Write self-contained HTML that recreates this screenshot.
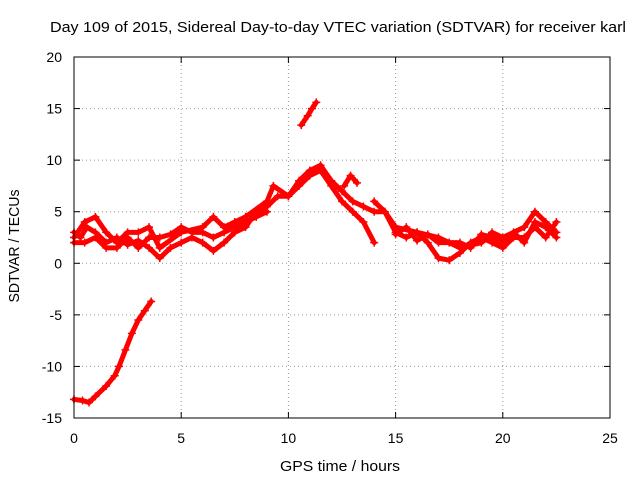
<!DOCTYPE html>
<html><head><meta charset="utf-8"><style>
body{margin:0;background:#fff}
svg{display:block;font-family:"Liberation Sans",sans-serif}
</style></head><body>
<svg id="chart" width="640" height="480">
<text x="338" y="32" font-size="15" text-anchor="middle" textLength="576" lengthAdjust="spacingAndGlyphs">Day 109 of 2015, Sidereal Day-to-day VTEC variation (SDTVAR) for receiver karl</text>
<text x="340" y="471" font-size="15" text-anchor="middle" textLength="120" lengthAdjust="spacingAndGlyphs">GPS time / hours</text>
<text transform="translate(19,246) rotate(-90)" font-size="15" text-anchor="middle" textLength="113" lengthAdjust="spacingAndGlyphs">SDTVAR / TECUs</text>
<g id="grid"></g><g id="ticks"></g><g id="series"></g>
<rect x="74" y="57" width="536" height="361" fill="none" stroke="#000"/>
</svg>
<script>
const xTicks=[0,5,10,15,20,25];
const yTicks=[-15,-10,-5,0,5,10,15,20];
const traceLow=[[0,-13.2],[0.4,-13.3],[0.7,-13.5],[1,-12.9],[1.5,-11.9],[1.9,-10.9],[2.1,-10],[2.4,-8.4],[2.7,-6.8],[3,-5.5],[3.3,-4.6],[3.6,-3.7]];
const traceHigh=[[10.6,13.4],[10.9,14.3],[11.1,15],[11.3,15.6]];
const traceA=[[0,3],[0.3,2.5],[0.6,3.5],[1,3],[1.5,2],[2,2.5],[2.5,1.8],[3,2.2],[3.5,1.5],[4,0.5],[4.5,1.5],[5,2],[5.5,2.5],[6,2],[6.5,1.2],[7,2],[7.5,3],[8,3.5],[8.5,5],[9,5.5],[9.5,6.5],[10,6.5],[10.5,7.5],[11,8.5],[11.5,9],[12,7.5],[12.5,6],[13,5],[13.5,4],[14,2]];
const traceB=[[0,2.5],[0.5,4],[1,4.5],[1.5,3],[2,2],[2.5,3],[3,3],[3.5,3.5],[4,1.5],[5,3],[6,3.5],[6.5,4.5],[7,3.5],[7.5,4],[8,4.5],[9,6],[9.3,7.5],[10,6.5],[10.5,8],[11,9],[11.5,9.5],[12,8],[12.5,7],[13,6],[13.5,5.5],[14,5],[14.5,5],[15,3.5],[16,3],[17,2.5],[17.5,2],[18,1.5],[19,2],[19.5,3],[20,2.5],[21,3.5],[21.5,5],[22,4],[22.5,3]];
const traceC=[[14,6],[14.5,5],[15,3],[15.5,2.5],[16,3],[16.5,2],[17,0.5],[17.5,0.3],[18,1],[18.5,2],[19,2.5],[19.5,2],[20,1.5],[20.5,2.5],[21,2.5],[21.5,3.5],[22,2.5],[22.5,4]];
const traceD=[[12.6,7.5],[12.9,8.5],[13.2,7.8]];
const traceE=[[0,2],[0.5,2],[1,2.5],[1.5,1.5],[2,1.5],[2.5,2.5],[3,1.5],[3.5,2.5],[4,2.5],[4.5,2.8],[5,3.5],[5.5,3],[6,3],[6.5,2.5],[7,3],[7.5,3.5],[8,4],[8.5,4.5],[9,5]];
const traceF=[[15,2.8],[15.5,3.5],[16,2.2],[16.5,2.8],[17,2],[18,2],[18.5,1.5],[19,2.8],[19.5,2.5],[20,2],[20.5,3],[21,2],[21.5,4],[22,3.5],[22.5,2.5]];
const X=v=>74+v*536/25, Y=v=>418-(v+15)*361/35;
const NS='http://www.w3.org/2000/svg';
const g=document.getElementById('grid'),t=document.getElementById('ticks'),s=document.getElementById('series');
function mk(tag,a,p){const e=document.createElementNS(NS,tag);for(const k in a)e.setAttribute(k,a[k]);p.appendChild(e);return e;}
xTicks.forEach(v=>{
 if(v>0&&v<25){const l=mk('line',{x1:X(v),x2:X(v),y1:57,y2:418,stroke:'#999','stroke-dasharray':'1,3'},g);
 
 }
 const tx=mk('text',{x:X(v),y:443,'font-size':14,'text-anchor':'middle'},t);tx.textContent=v;
 
 
 mk('line',{x1:X(v),x2:X(v),y1:418,y2:412,stroke:'#000'},t);mk('line',{x1:X(v),x2:X(v),y1:57,y2:63,stroke:'#000'},t);
});
yTicks.forEach(v=>{
 if(v>-15&&v<20){const l=mk('line',{x1:74,x2:610,y1:Y(v),y2:Y(v),stroke:'#999','stroke-dasharray':'1,3'},g);
 
 }
 const tx=mk('text',{x:62,y:Y(v)+5,'font-size':14,'text-anchor':'end'},t);tx.textContent=v;
 
 
 mk('line',{x1:74,x2:80,y1:Y(v),y2:Y(v),stroke:'#000'},t);mk('line',{x1:604,x2:610,y1:Y(v),y2:Y(v),stroke:'#000'},t);
});
[['trace-low',traceLow],['trace-high',traceHigh],['trace-a',traceA],['trace-b',traceB],['trace-c',traceC],['trace-d',traceD],['trace-e',traceE],['trace-f',traceF]].forEach(([n,d])=>{
 const p=mk('polyline',{points:d.map(q=>X(q[0])+','+Y(q[1])).join(' '),fill:'none',stroke:'#f00','stroke-width':5,'stroke-linejoin':'round','stroke-linecap':'round'},s);
 
 
 d.forEach(q=>{const m=mk('path',{d:`M${X(q[0])-4},${Y(q[1])}h8M${X(q[0])},${Y(q[1])-4}v8`,stroke:'#f00','stroke-width':1.5},s);
  
  });
});
</script>
</body></html>
